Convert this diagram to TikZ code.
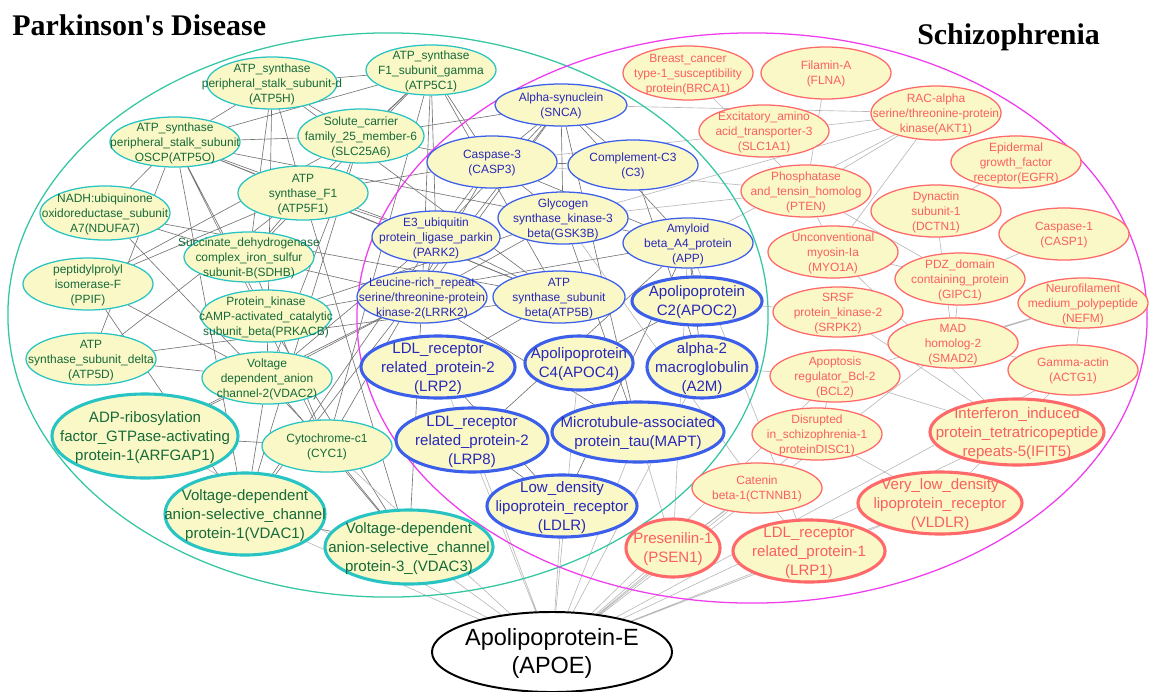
\documentclass[tikz,border=0pt]{standalone}
\usepackage{fontspec}
\setmainfont{Liberation Sans}
\newfontfamily\titlefont{Liberation Serif}
\usetikzlibrary{shapes.geometric}
\pgfdeclarelayer{edges}
\pgfsetlayers{edges,main}
\def\NodeFill{rgb,255:red,250;green,248;blue,198}
\def\PdLine{rgb,255:red,40;green,196;blue,196}
\def\PdText{rgb,255:red,22;green,105;blue,58}
\def\PdRing{rgb,255:red,52;green,198;blue,160}
\def\BothLine{rgb,255:red,60;green,95;blue,235}
\def\BothText{rgb,255:red,40;green,40;blue,185}
\def\SzLine{rgb,255:red,255;green,105;blue,105}
\def\SzText{rgb,255:red,250;green,95;blue,95}
\def\SzRing{rgb,255:red,238;green,60;blue,238}
\newcommand{\nlbl}[1]{\makebox[0pt]{\raisebox{-0.35em}[0pt][0pt]{\begin{tabular}{@{}c@{}}#1\end{tabular}}}}

\begin{document}
\begin{tikzpicture}[x=0.025cm, y=-0.025cm]
\tikzstyle{gene} = [ellipse, fill=\NodeFill, inner sep=0pt, minimum width=3.25cm, minimum height=1.3cm, line width=0.9pt, font=\fontsize{8.5}{10.6}\selectfont]
\tikzstyle{pdnode} = [gene, draw=\PdLine, text=\PdText]
\tikzstyle{pdbig} = [pdnode, line width=2.2pt, font=\fontsize{10.7}{13.5}\selectfont]
\tikzstyle{bothnode} = [gene, draw=\BothLine, text=\BothText]
\tikzstyle{bothbig} = [bothnode, line width=2.2pt, font=\fontsize{10.7}{13.5}\selectfont]
\tikzstyle{sznode} = [gene, draw=\SzLine, text=\SzText]
\tikzstyle{szbig} = [sznode, line width=2.2pt, font=\fontsize{10.7}{13.5}\selectfont]
\tikzstyle{ring} = [ellipse, inner sep=0pt, line width=0.9pt]
\tikzstyle{hubnode} = [ellipse, draw=black, line width=1.4pt, fill=white, inner sep=0pt, minimum width=6cm, minimum height=2cm, font=\fontsize{16.7}{20}\selectfont]
\tikzstyle{heading} = [anchor=base west, inner sep=0pt, font=\titlefont\bfseries\fontsize{21.3}{25}\selectfont]
\tikzstyle{pdlink} = [draw=black!55, line width=0.45pt]
\tikzstyle{szlink} = [draw=black!28, line width=0.45pt]

\useasboundingbox (0,0) rectangle (1149,691);

\node [ring, draw=\PdRing, minimum width=19cm, minimum height=14.1cm] at (388,315) (pdset) {};
\node [ring, draw=\SzRing, minimum width=19.75cm, minimum height=14.25cm] at (752,318) (szset) {};

\node [heading] at (12,35) (pdtitle) {Parkinson\textquotesingle s Disease};
\node [heading] at (917,44) (sztitle) {Schizophrenia};

% Parkinson's disease genes
\node [pdnode] at (272,83) (atp5h) {\nlbl{ATP\_synthase\\peripheral\_stalk\_subunit-d\\(ATP5H)}};
\node [pdnode, minimum height=1.25cm] at (431,70) (atp5c1) {\nlbl{ATP\_synthase\\F1\_subunit\_gamma\\(ATP5C1)}};
\node [pdnode, minimum height=1.25cm] at (175,142) (atp5o) {\nlbl{ATP\_synthase\\peripheral\_stalk\_subunit\\OSCP(ATP5O)}};
\node [pdnode, minimum width=3.15cm, minimum height=1.35cm] at (361,136) (slc25a6) {\nlbl{Solute\_carrier\\family\_25\_member-6\\(SLC25A6)}};
\node [pdnode, minimum height=1.35cm] at (303,193) (atp5f1) {\nlbl{ATP\\synthase\_F1\\(ATP5F1)}};
\node [pdnode, minimum height=1.35cm] at (105,213) (ndufa7) {\nlbl{NADH:ubiquinone\\oxidoreductase\_subunit\\A7(NDUFA7)}};
\node [pdnode, minimum height=1.25cm] at (249,257) (sdhb) {\nlbl{Succinate\_dehydrogenase\\complex\_iron\_sulfur\\subunit-B(SDHB)}};
\node [pdnode] at (88,284) (ppif) {\nlbl{peptidylprolyl\\isomerase-F\\(PPIF)}};
\node [pdnode] at (266,316) (prkacb) {\nlbl{Protein\_kinase\\cAMP-activated\_catalytic\\subunit\_beta(PRKACB)}};
\node [pdnode] at (91,359) (atp5d) {\nlbl{ATP\\synthase\_subunit\_delta\\(ATP5D)}};
\node [pdnode] at (267,378) (vdac2) {\nlbl{Voltage\\dependent\_anion\\channel-2(VDAC2)}};
\node [pdnode] at (327,446) (cyc1) {\nlbl{Cytochrome-c1\\(CYC1)}};
\node [pdbig, minimum width=4.65cm, minimum height=2.1cm] at (145,436) (arfgap1) {\nlbl{ADP-ribosylation\\factor\_GTPase-activating\\protein-1(ARFGAP1)}};
\node [pdbig, minimum width=4cm, minimum height=2.05cm] at (245,514) (vdac1) {\nlbl{Voltage-dependent\\anion-selective\_channel\\protein-1(VDAC1)}};
\node [pdbig, minimum width=4.2cm, minimum height=1.85cm] at (409,547) (vdac3) {\nlbl{Voltage-dependent\\anion-selective\_channel\\protein-3\_(VDAC3)}};

% shared genes
\node [bothnode, minimum width=3.3cm, minimum height=1.05cm] at (561,105) (snca) {\nlbl{Alpha-synuclein\\(SNCA)}};
\node [bothnode] at (492,162) (casp3) {\nlbl{Caspase-3\\(CASP3)}};
\node [bothnode, minimum height=1.25cm] at (633,165) (c3) {\nlbl{Complement-C3\\(C3)}};
\node [bothnode] at (563,218) (gsk3b) {\nlbl{Glycogen\\synthase\_kinase-3\\beta(GSK3B)}};
\node [bothnode, minimum width=3.2cm] at (436,237) (park2) {\nlbl{E3\_ubiquitin\\protein\_ligase\_parkin\\(PARK2)}};
\node [bothnode, minimum height=1.25cm] at (688,243) (app) {\nlbl{Amyloid\\beta\_A4\_protein\\(APP)}};
\node [bothnode] at (422,297) (lrrk2) {\nlbl{Leucine-rich\_repeat\\serine/threonine-protein\\kinase-2(LRRK2)}};
\node [bothnode, minimum width=3.3cm] at (559,297) (atp5b) {\nlbl{ATP\\synthase\_subunit\\beta(ATP5B)}};
\node [bothbig, minimum height=1.2cm] at (697,301) (apoc2) {\nlbl{Apolipoprotein\\C2(APOC2)}};
\node [bothbig, minimum width=3.85cm, minimum height=1.55cm] at (438,367) (lrp2) {\nlbl{LDL\_receptor\\related\_protein-2\\(LRP2)}};
\node [bothbig, minimum width=2.7cm, minimum height=1.35cm] at (579,363) (apoc4) {\nlbl{Apolipoprotein\\C4(APOC4)}};
\node [bothbig, minimum width=2.75cm, minimum height=1.55cm] at (702,367) (a2m) {\nlbl{alpha-2\\macroglobulin\\(A2M)}};
\node [bothbig, minimum width=3.8cm, minimum height=1.6cm] at (472,440) (lrp8) {\nlbl{LDL\_receptor\\related\_protein-2\\(LRP8)}};
\node [bothbig, minimum width=4.3cm, minimum height=1.5cm] at (638,432) (mapt) {\nlbl{Microtubule-associated\\protein\_tau(MAPT)}};
\node [bothbig, minimum width=3.75cm, minimum height=1.55cm] at (562,506) (ldlr) {\nlbl{Low\_density\\lipoprotein\_receptor\\(LDLR)}};

% schizophrenia genes
\node [sznode, minimum height=1.35cm] at (688,73) (brca1) {\nlbl{Breast\_cancer\\type-1\_susceptibility\\protein(BRCA1)}};
\node [sznode] at (826,73) (flna) {\nlbl{Filamin-A\\(FLNA)}};
\node [sznode, minimum height=1.35cm] at (936,113) (akt1) {\nlbl{RAC-alpha\\serine/threonine-protein\\kinase(AKT1)}};
\node [sznode] at (764,131) (slc1a1) {\nlbl{Excitatory\_amino\\acid\_transporter-3\\(SLC1A1)}};
\node [sznode] at (1016,162) (egfr) {\nlbl{Epidermal\\growth\_factor\\receptor(EGFR)}};
\node [sznode] at (806,191) (pten) {\nlbl{Phosphatase\\and\_tensin\_homolog\\(PTEN)}};
\node [sznode] at (936,211) (dctn1) {\nlbl{Dynactin\\subunit-1\\(DCTN1)}};
\node [sznode] at (1064,234) (casp1) {\nlbl{Caspase-1\\(CASP1)}};
\node [sznode] at (833,252) (myo1a) {\nlbl{Unconventional\\myosin-Ia\\(MYO1A)}};
\node [sznode] at (960,279) (gipc1) {\nlbl{PDZ\_domain\\containing\_protein\\(GIPC1)}};
\node [sznode, minimum height=1.25cm] at (1083,303) (nefm) {\nlbl{Neurofilament\\medium\_polypeptide\\(NEFM)}};
\node [sznode, minimum height=1.25cm] at (838,312) (srpk2) {\nlbl{SRSF\\protein\_kinase-2\\(SRPK2)}};
\node [sznode, minimum height=1.25cm] at (953,343) (smad2) {\nlbl{MAD\\homolog-2\\(SMAD2)}};
\node [sznode] at (835,376) (bcl2) {\nlbl{Apoptosis\\regulator\_Bcl-2\\(BCL2)}};
\node [sznode, minimum height=1.25cm] at (1073,370) (actg1) {\nlbl{Gamma-actin\\(ACTG1)}};
\node [sznode] at (817,434) (disc1) {\nlbl{Disrupted\\in\_schizophrenia-1\\proteinDISC1)}};
\node [sznode, minimum height=1.25cm] at (757,488) (ctnnb1) {\nlbl{Catenin\\beta-1(CTNNB1)}};
\node [szbig, minimum width=4.35cm, minimum height=1.65cm] at (1017,432) (ifit5) {\nlbl{Interferon\_induced\\protein\_tetratricopeptide\\repeats-5(IFIT5)}};
\node [szbig, minimum width=4.1cm, minimum height=1.55cm] at (940,503) (vldlr) {\nlbl{Very\_low\_density\\lipoprotein\_receptor\\(VLDLR)}};
\node [szbig, minimum width=2.35cm, minimum height=1.45cm] at (673,548) (psen1) {\nlbl{Presenilin-1\\(PSEN1)}};
\node [szbig, minimum width=3.8cm, minimum height=1.55cm] at (809,551) (lrp1) {\nlbl{LDL\_receptor\\related\_protein-1\\(LRP1)}};

\node [hubnode] at (552,652) (apoe) {\nlbl{Apolipoprotein-E\\(APOE)}};

\begin{pgfonlayer}{edges}
% interactions
\path [pdlink] (atp5h) -- (atp5c1) (atp5h) -- (atp5o) (atp5h) -- (atp5f1) (atp5h) -- (slc25a6) (atp5h) -- (sdhb) (atp5h) -- (vdac2) (atp5h) -- (atp5b);
\path [pdlink] (atp5c1) -- (atp5o) (atp5c1) -- (atp5f1) (atp5c1) -- (slc25a6) (atp5c1) -- (atp5b) (atp5c1) -- (sdhb) (atp5c1) -- (casp3) (atp5c1) -- (park2) (atp5c1) -- (cyc1) (atp5c1) -- (lrrk2);
\path [pdlink] (atp5o) -- (atp5f1) (atp5o) -- (ndufa7) (atp5o) -- (slc25a6) (atp5o) -- (atp5b) (atp5o) -- (prkacb) (atp5o) -- (cyc1) (atp5o) -- (vdac1) (atp5o) -- (gsk3b) (atp5o) -- (park2);
\path [pdlink] (atp5f1) -- (atp5b) (atp5f1) -- (atp5d) (atp5f1) -- (sdhb) (atp5f1) -- (park2) (atp5f1) -- (vdac3) (atp5f1) -- (casp3);
\path [pdlink] (slc25a6) -- (vdac2) (slc25a6) -- (vdac1) (slc25a6) -- (casp3) (slc25a6) -- (snca) (slc25a6) -- (ppif);
\path [pdlink] (ndufa7) -- (sdhb) (ndufa7) -- (atp5b) (ndufa7) -- (cyc1);
\path [pdlink] (ppif) -- (vdac1) (ppif) -- (vdac2) (ppif) -- (atp5f1);
\path [pdlink] (atp5d) -- (atp5o) (atp5d) -- (atp5b) (atp5d) -- (vdac2);
\path [pdlink] (sdhb) -- (cyc1) (sdhb) -- (lrrk2);
\path [pdlink] (prkacb) -- (gsk3b) (prkacb) -- (app) (prkacb) -- (vdac3);
\path [pdlink] (vdac2) -- (vdac1) (vdac2) -- (vdac3) (vdac2) -- (park2) (vdac2) -- (lrrk2);
\path [pdlink] (vdac1) -- (vdac3) (vdac1) -- (park2) (vdac1) -- (snca);
\path [pdlink] (arfgap1) -- (vdac2) (arfgap1) -- (cyc1) (arfgap1) -- (lrrk2);
\path [pdlink] (cyc1) -- (vdac3) (cyc1) -- (casp3) (vdac3) -- (lrrk2);
\path [pdlink] (snca) -- (casp3) (snca) -- (c3) (snca) -- (gsk3b) (snca) -- (park2) (snca) -- (lrrk2) (snca) -- (app) (snca) -- (mapt);
\path [pdlink] (casp3) -- (gsk3b) (casp3) -- (park2) (casp3) -- (app) (casp3) -- (c3);
\path [pdlink] (gsk3b) -- (app) (gsk3b) -- (mapt) (gsk3b) -- (lrrk2);
\path [pdlink] (park2) -- (lrrk2) (park2) -- (atp5b);
\path [pdlink] (app) -- (apoc2) (app) -- (a2m) (app) -- (lrp8) (app) -- (ldlr);
\path [pdlink] (mapt) -- (lrrk2) (lrp2) -- (ldlr) (lrp8) -- (ldlr) (atp5b) -- (lrp2) (c3) -- (a2m) (apoc2) -- (apoc4);
\path [szlink] (snca) -- (akt1) (casp3) -- (akt1) (gsk3b) -- (akt1) (app) -- (akt1) (gsk3b) -- (pten) (gsk3b) -- (ctnnb1);
\path [szlink] (app) -- (psen1) (app) -- (lrp1) (mapt) -- (psen1) (casp3) -- (pten) (apoc2) -- (srpk2) (a2m) -- (bcl2);
\path [szlink] (brca1) -- (pten) (flna) -- (pten) (akt1) -- (pten) (akt1) -- (myo1a) (egfr) -- (dctn1);
\path [szlink] (pten) -- (myo1a) (pten) -- (gipc1) (myo1a) -- (gipc1) (casp1) -- (gipc1) (gipc1) -- (smad2) (dctn1) -- (smad2);
\path [szlink] (nefm) -- (smad2) (nefm) -- (actg1) (nefm) -- (bcl2) (smad2) -- (actg1);
\path [szlink] (bcl2) -- (ifit5) (bcl2) -- (disc1) (disc1) -- (vldlr) (srpk2) -- (ifit5) (myo1a) -- (ifit5) (actg1) -- (vldlr);
\path [szlink] (ctnnb1) -- (psen1) (ctnnb1) -- (lrp1) (lrp1) -- (vldlr);
\path [szlink] (apoe) -- (vdac3) (apoe) -- (vdac1) (apoe) -- (arfgap1) (apoe) -- (cyc1) (apoe) -- (lrp2) (apoe) -- (lrp8) (apoe) -- (ldlr);
\path [szlink] (apoe) -- (mapt) (apoe) -- (a2m) (apoe) -- (apoc4) (apoe) -- (psen1) (apoe) -- (lrp1) (apoe) -- (vldlr) (apoe) -- (ifit5);
\path [szlink] (apoe) -- (ctnnb1) (apoe) -- (disc1) (apoe) -- (bcl2) (apoe) -- (actg1) (apoe) -- (smad2);
\end{pgfonlayer}

\end{tikzpicture}
\end{document}
